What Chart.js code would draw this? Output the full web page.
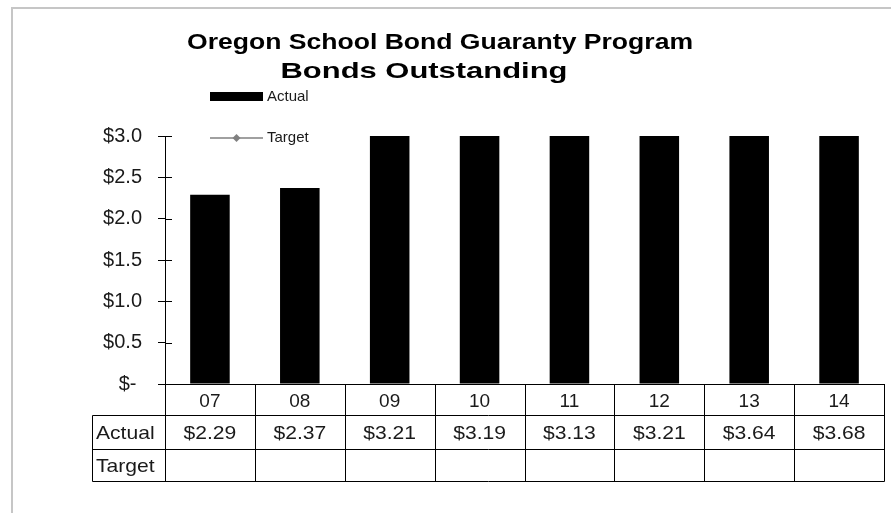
<!DOCTYPE html>
<html>
<head>
<meta charset="utf-8">
<title>Oregon School Bond Guaranty Program</title>
<script src="https://cdn.jsdelivr.net/npm/chart.js@4.4.1/dist/chart.umd.min.js"></script>
<style>
  html, body { margin: 0; padding: 0; background: #fff; }
  #wrap { position: relative; width: 891px; height: 513px; }
</style>
</head>
<body>
<div id="wrap"><canvas id="myChart" width="891" height="513"></canvas></div>
<script>
// chart data
var years = ['07', '08', '09', '10', '11', '12', '13', '14'];
var actual = [2.29, 2.37, 3.21, 3.19, 3.13, 3.21, 3.64, 3.68];
var target = [null, null, null, null, null, null, null, null];
var yTicks = [0, 0.5, 1.0, 1.5, 2.0, 2.5, 3.0];
var titleLines = ['Oregon School Bond Guaranty Program', 'Bonds Outstanding'];

var fontName = '"Liberation Sans", Arial, sans-serif';

function money(v) {
  return '$' + v.toFixed(2);
}

// text drawn a little wider than the font, the way the original was
function wideText(ctx, text, x, y, sx) {
  ctx.save();
  ctx.translate(x, y);
  ctx.scale(sx, 1);
  ctx.fillText(text, 0, 0);
  ctx.restore();
}

// squeeze/stretch a title line so it spans the given width
function fitText(ctx, text, cx, y, w) {
  var m = ctx.measureText(text).width;
  wideText(ctx, text, cx, y, w / m);
}

// draws the frame, title, legend, tick crosses and the data table
var extras = {
  id: 'extras',
  beforeDraw: function (chart) {
    var ctx = chart.ctx;
    ctx.save();
    ctx.fillStyle = '#fff';
    ctx.fillRect(0, 0, chart.width, chart.height);
    // outer frame
    ctx.strokeStyle = '#c6c6c6';
    ctx.lineWidth = 2;
    ctx.beginPath();
    ctx.moveTo(12, 513);
    ctx.lineTo(12, 8);
    ctx.lineTo(891, 8);
    ctx.stroke();
    ctx.restore();
  },
  afterDraw: function (chart) {
    var ctx = chart.ctx;
    var area = chart.chartArea;
    var xs = chart.scales.x;
    var ys = chart.scales.y;
    ctx.save();

    // title
    ctx.fillStyle = '#000';
    ctx.textAlign = 'center';
    ctx.textBaseline = 'alphabetic';
    ctx.font = 'bold 22px ' + fontName;
    fitText(ctx, titleLines[0], 440, 49, 506);
    ctx.font = 'bold 22px ' + fontName;
    fitText(ctx, titleLines[1], 424, 78, 287);

    // legend
    ctx.font = '15px ' + fontName;
    ctx.textAlign = 'left';
    ctx.textBaseline = 'middle';
    ctx.fillStyle = '#000';
    ctx.fillRect(210, 92, 53, 9);
    ctx.fillStyle = '#1a1a1a';
    ctx.fillText(chart.data.datasets[0].label, 267, 97);
    ctx.strokeStyle = '#808080';
    ctx.lineWidth = 1.5;
    ctx.beginPath();
    ctx.moveTo(210, 138);
    ctx.lineTo(263, 138);
    ctx.stroke();
    ctx.fillStyle = '#808080';
    ctx.beginPath();
    ctx.moveTo(236.5, 134);
    ctx.lineTo(240.5, 138);
    ctx.lineTo(236.5, 142);
    ctx.lineTo(232.5, 138);
    ctx.closePath();
    ctx.fill();
    ctx.fillStyle = '#1a1a1a';
    ctx.fillText(chart.data.datasets[1].label, 267, 138);

    // inner half of the y tick marks
    ctx.strokeStyle = '#000';
    ctx.lineWidth = 1;
    ys.ticks.forEach(function (t) {
      var py = Math.round(ys.getPixelForValue(t.value)) + 0.5;
      ctx.beginPath();
      ctx.moveTo(area.left, py);
      ctx.lineTo(area.left + 7, py);
      ctx.stroke();
    });

    // data table
    var half = (xs.getPixelForValue(1) - xs.getPixelForValue(0)) / 2;
    var tLeft = 92;
    var tRight = Math.round(area.right) + 0.5;
    var r0 = Math.round(area.bottom) + 0.5;
    var r1 = r0 + 31;
    var r2 = r1 + 34;
    var r3 = r2 + 32;
    ctx.beginPath();
    ctx.moveTo(158, r0);
    ctx.lineTo(area.left, r0);
    ctx.moveTo(tLeft + 0.5, r1);
    ctx.lineTo(tRight, r1);
    ctx.moveTo(tLeft + 0.5, r2);
    ctx.lineTo(tRight, r2);
    ctx.moveTo(tLeft + 0.5, r3);
    ctx.lineTo(tRight, r3);
    ctx.moveTo(tLeft + 0.5, r1);
    ctx.lineTo(tLeft + 0.5, r3);
    for (var i = 0; i <= years.length; i++) {
      var bx = Math.round(xs.getPixelForValue(i) - half) + 0.5;
      ctx.moveTo(bx, r0);
      ctx.lineTo(bx, r3);
    }
    ctx.stroke();

    ctx.fillStyle = '#1a1a1a';
    ctx.font = '19px ' + fontName;
    ctx.textBaseline = 'middle';
    ctx.textAlign = 'left';
    wideText(ctx, chart.data.datasets[0].label, 96, (r1 + r2) / 2 + 1, 1.11);
    wideText(ctx, chart.data.datasets[1].label, 96, (r2 + r3) / 2 + 1, 1.11);
    ctx.textAlign = 'center';
    for (var j = 0; j < years.length; j++) {
      var cx = xs.getPixelForValue(j);
      if (actual[j] != null) wideText(ctx, money(actual[j]), cx, (r1 + r2) / 2 + 1, 1.11);
      if (target[j] != null) wideText(ctx, money(target[j]), cx, (r2 + r3) / 2 + 1, 1.11);
    }
    ctx.restore();
  }
};

var myChart = document.getElementById('myChart').getContext('2d');
var chart = new Chart(myChart, {
  type: 'bar',
  data: {
    labels: years,
    datasets: [
      {
        label: 'Actual',
        data: actual,
        backgroundColor: '#000',
        categoryPercentage: 1,
        barPercentage: 0.44,
        order: 2
      },
      {
        type: 'line',
        label: 'Target',
        data: target,
        borderColor: '#808080',
        backgroundColor: '#808080',
        pointStyle: 'rectRot',
        order: 1
      }
    ]
  },
  options: {
    responsive: false,
    animation: false,
    layout: { padding: { left: 12, top: 136, right: 7, bottom: 98 } },
    plugins: {
      legend: { display: false },
      title: { display: false },
      tooltip: { enabled: false }
    },
    scales: {
      x: {
        grid: { display: false, drawTicks: false },
        border: { display: true, color: '#000', width: 1 },
        ticks: { color: '#1a1a1a', font: { family: fontName, size: 19 }, padding: 6 },
        afterFit: function (scale) { scale.height = 31; }
      },
      y: {
        min: 0,
        max: 3,
        afterBuildTicks: function (scale) {
          scale.ticks = yTicks.map(function (v) { return { value: v }; });
        },
        grid: { drawOnChartArea: false, tickLength: 7, color: '#000' },
        border: { display: true, color: '#000', width: 1 },
        ticks: {
          color: '#1a1a1a',
          padding: 16,
          font: { family: fontName, size: 20 },
          callback: function (v) { return v === 0 ? '$- ' : '$' + v.toFixed(1); }
        },
        afterFit: function (scale) { scale.width = 153; }
      }
    }
  },
  plugins: [extras]
});
</script>
</body>
</html>
